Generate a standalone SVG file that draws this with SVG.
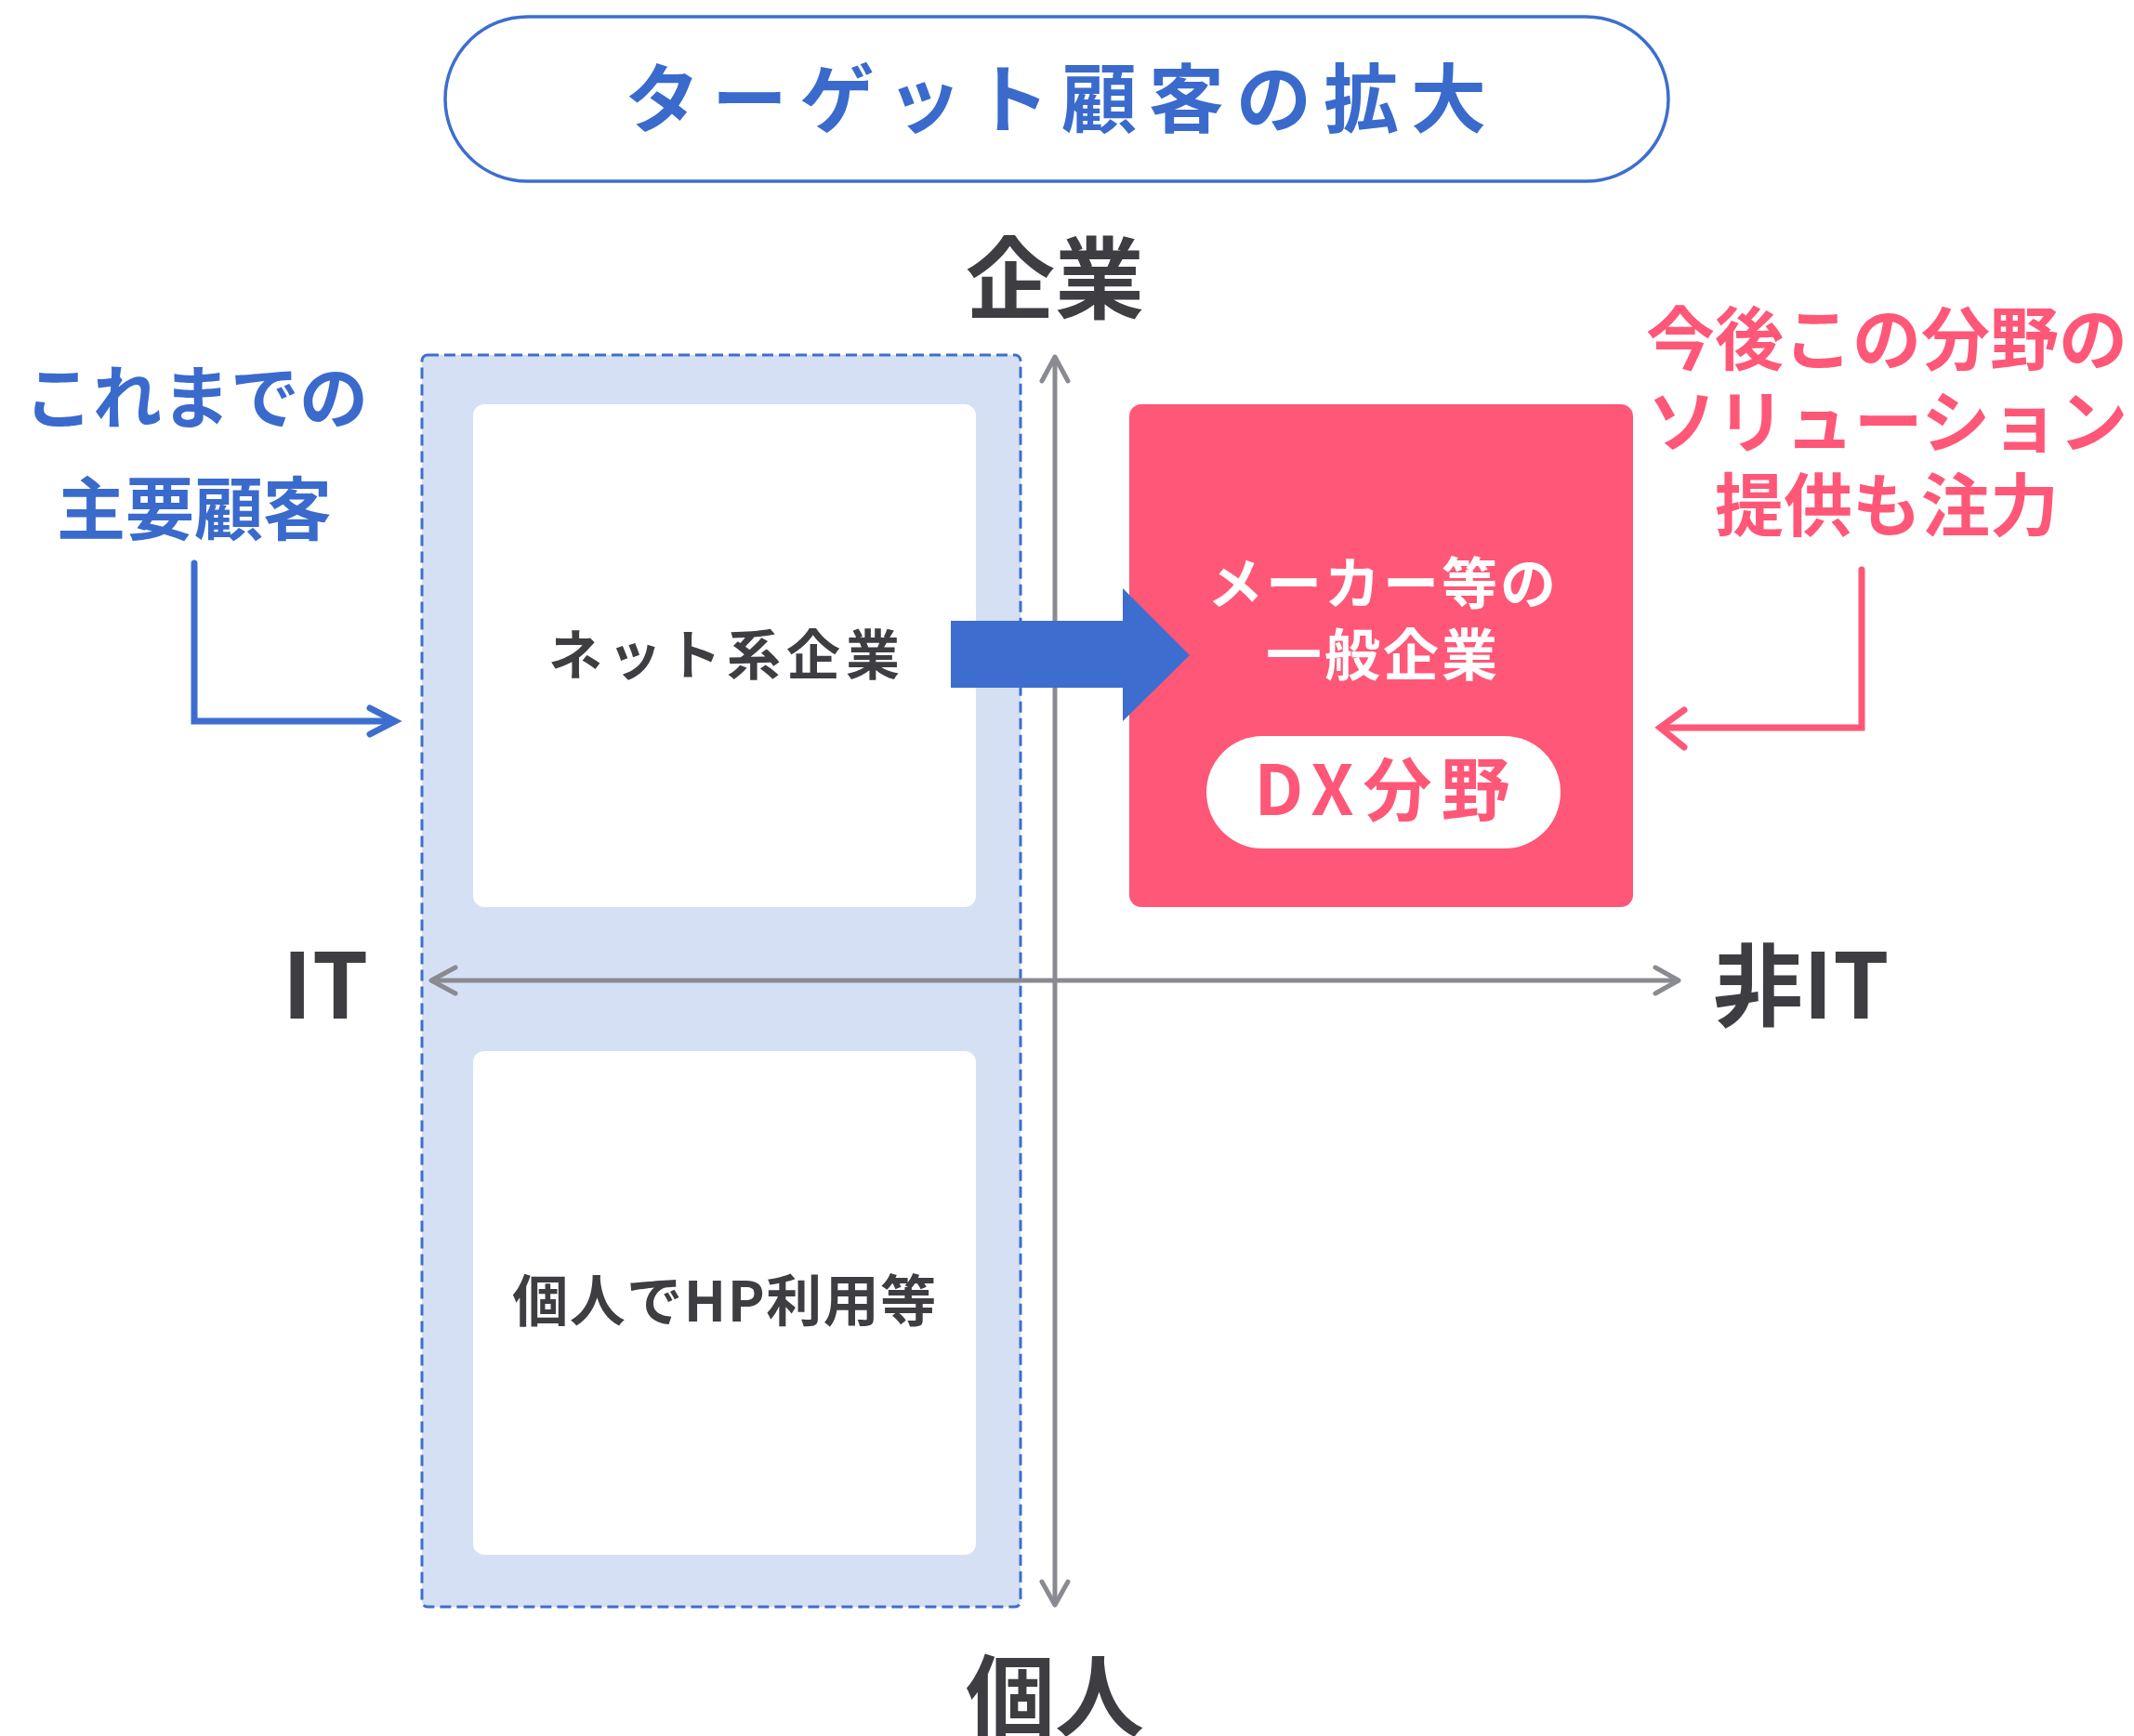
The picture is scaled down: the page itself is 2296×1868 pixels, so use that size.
<svg xmlns="http://www.w3.org/2000/svg" width="2296" height="1868" viewBox="0 0 2296 1868">
<defs>
<style>
text{font-family:"Noto Sans CJK JP","Noto Sans",sans-serif;font-weight:700;}
.blue{fill:#3a6acc;}
.dark{fill:#3d3d42;}
.pink{fill:#ff5777;}
.white{fill:#ffffff;}
.axis{stroke:#8a8a92;stroke-width:5;fill:none;stroke-linecap:round;stroke-linejoin:round;}
.bl{stroke:#3d6ecf;stroke-width:7;fill:none;stroke-linecap:round;stroke-linejoin:miter;}
.pl{stroke:#ff5777;stroke-width:7;fill:none;stroke-linecap:round;stroke-linejoin:miter;}
</style>
</defs>
<rect width="2296" height="1868" fill="#ffffff"/>

<g id="title">
<rect x="479" y="18" width="1316" height="177" rx="88.5" fill="#ffffff" stroke="#3d6ecf" stroke-width="3.5"/>
<text x="1142" y="136" font-size="81" letter-spacing="13" text-anchor="middle" class="blue">ターゲット顧客の拡大</text>
</g>

<g id="current-customers-region">
<rect x="454" y="382" width="644" height="1347" rx="6" fill="#d6e0f4" stroke="#3d6ecf" stroke-width="3" stroke-dasharray="12 6"/>
</g>

<g id="axes">
<line class="axis" x1="1135" y1="385" x2="1135" y2="1726"/>
<polyline class="axis" points="1121,410 1135,384 1149,410"/>
<polyline class="axis" points="1121,1702 1135,1727 1149,1702"/>
<line class="axis" x1="465" y1="1055" x2="1805" y2="1055"/>
<polyline class="axis" points="490,1041 464,1055 490,1069"/>
<polyline class="axis" points="1781,1041 1806,1055 1781,1069"/>
</g>

<g id="node-net">
<rect x="509" y="435" width="541" height="541" rx="12" fill="#ffffff"/>
<text x="782" y="726" font-size="58" letter-spacing="6" text-anchor="middle" class="dark">ネット系企業</text>
</g>

<g id="node-personal">
<rect x="509" y="1131" width="541" height="542" rx="12" fill="#ffffff"/>
<text x="780" y="1422" font-size="60" letter-spacing="1.5" text-anchor="middle" class="dark">個人でHP利用等</text>
</g>

<g id="node-general">
<rect x="1215" y="435" width="542" height="541" rx="13" fill="#ff5777"/>
<text x="1488" y="650" font-size="60" letter-spacing="3" text-anchor="middle" class="white">メーカー等の</text>
<text x="1488" y="727" font-size="60" letter-spacing="3" text-anchor="middle" class="white">一般企業</text>
<rect x="1298" y="792" width="381" height="121" rx="60.5" fill="#ffffff"/>
<text x="1492" y="877" font-size="74" letter-spacing="10" text-anchor="middle" class="pink">DX分野</text>
</g>

<g id="axis-labels">
<text x="1135" y="335" font-size="96" text-anchor="middle" class="dark">企業</text>
<text x="1135" y="1861" font-size="96" text-anchor="middle" class="dark">個人</text>
<text x="350" y="1096" font-size="97" text-anchor="middle" class="dark">IT</text>
<text x="1843" y="1096" font-size="97" class="dark">非IT</text>
</g>

<g id="note-left">
<text x="211" y="455" font-size="74" text-anchor="middle" class="blue">これまでの</text>
<text x="209" y="575" font-size="74" text-anchor="middle" class="blue">主要顧客</text>
</g>

<g id="note-right">
<text x="2030" y="392" font-size="74" text-anchor="middle" class="pink">今後この分野の</text>
<text x="2031" y="481" font-size="74" text-anchor="middle" class="pink">ソリューション</text>
<text x="2030" y="571" font-size="74" text-anchor="middle" class="pink">提供も注力</text>
</g>

<g id="connectors">
<polyline class="bl" points="209,606 209,776 424,776"/>
<polyline class="bl" points="398,762 425,776 398,790" stroke-linejoin="round"/>
<polyline class="pl" points="2003,613 2003,783 1788,783"/>
<polyline class="pl" points="1812,764 1786,783 1812,804" stroke-linejoin="round"/>
<polygon points="1023,668 1208,668 1208,633 1280,705 1208,776 1208,740 1023,740" fill="#3d6ecf"/>
</g>
</svg>
